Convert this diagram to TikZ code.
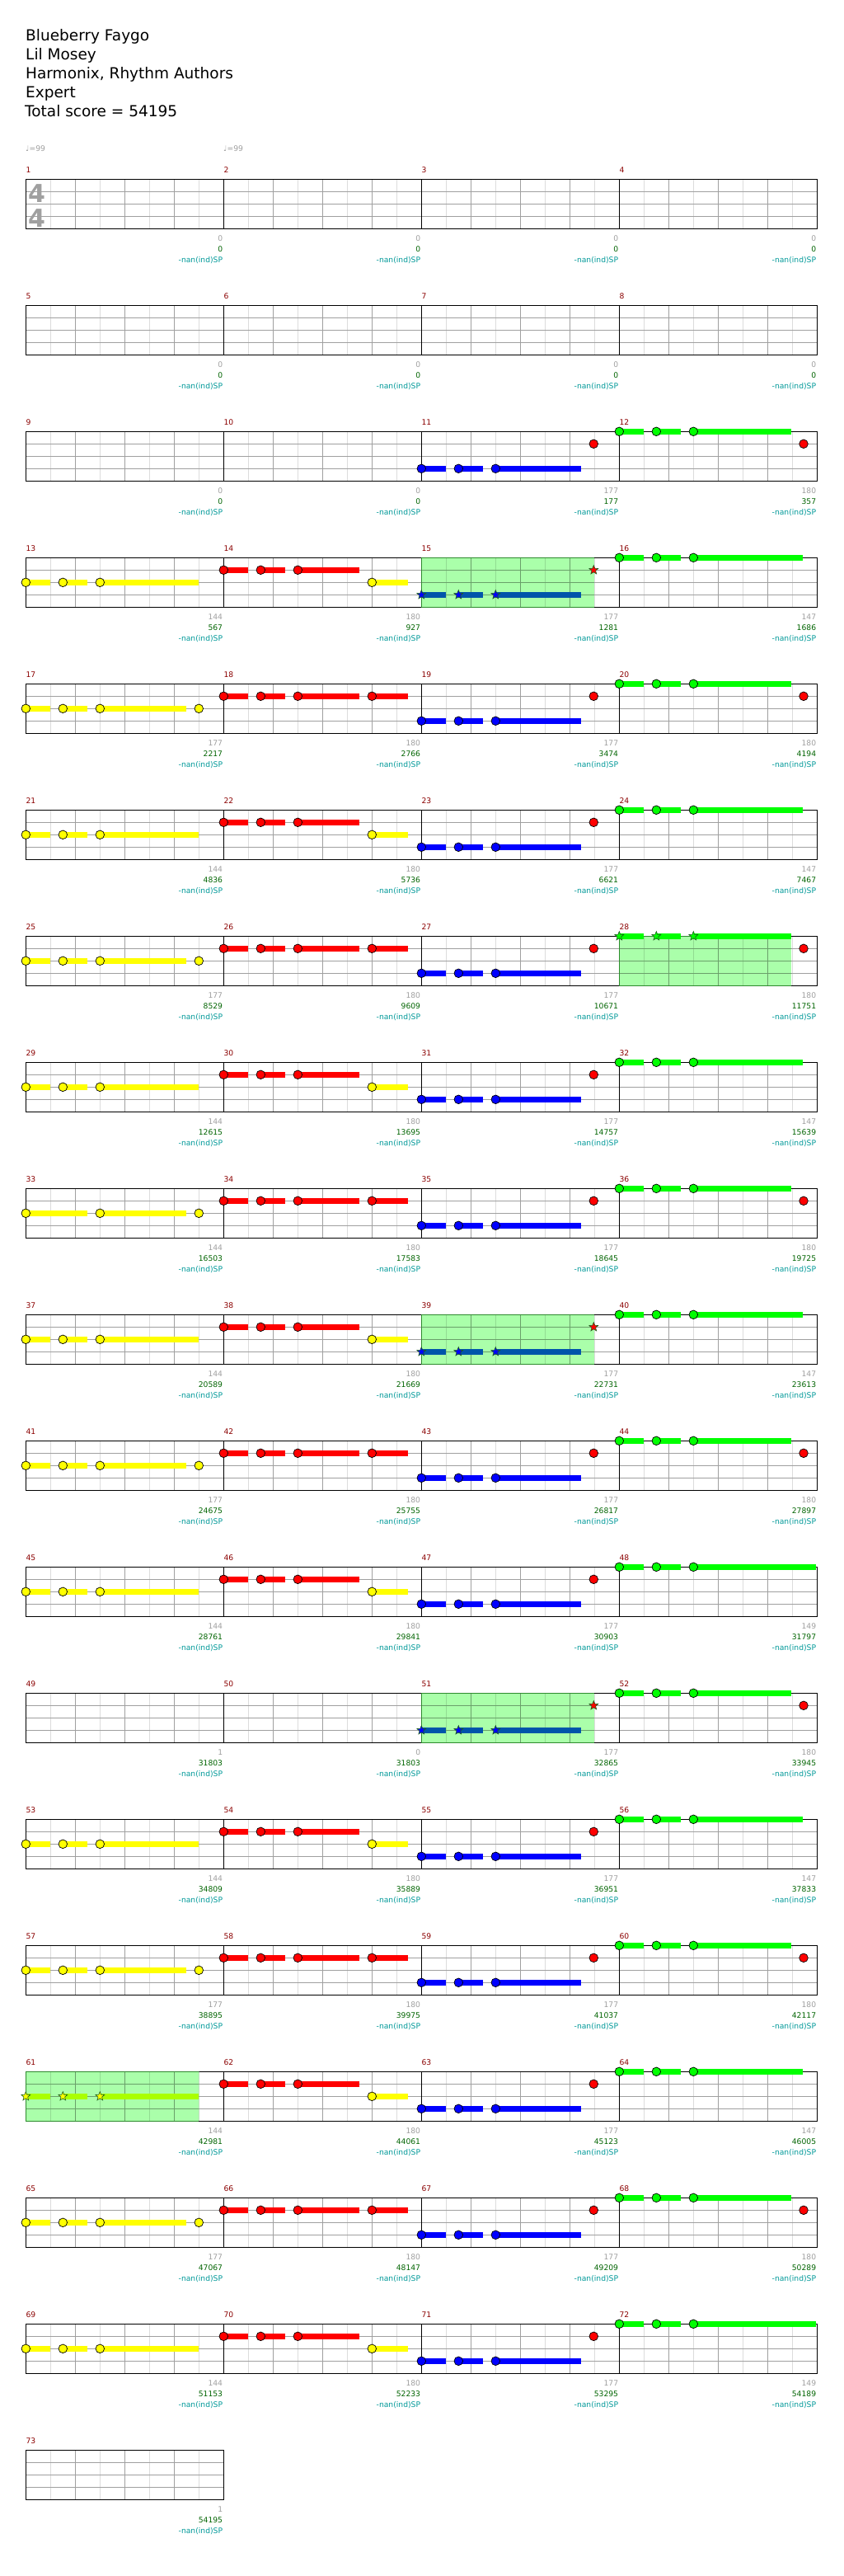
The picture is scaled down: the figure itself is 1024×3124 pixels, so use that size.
\documentclass[tikz,border=0pt]{standalone}
\usepackage{fontspec}
\setmainfont{DejaVu Sans}
\usetikzlibrary{shapes.geometric}
\definecolor{gridlight}{HTML}{DCDCDC}
\definecolor{gridgray}{HTML}{A0A0A0}
\definecolor{splight}{HTML}{92DC92}
\definecolor{spgray}{HTML}{6AA06A}
\definecolor{spfill}{HTML}{AAFFAA}
\definecolor{spedge}{HTML}{2E8B2E}
\definecolor{nyel}{HTML}{FFFF00}
\definecolor{nred}{HTML}{FF0000}
\definecolor{nblu}{HTML}{0000FF}
\definecolor{ngrn}{HTML}{00FF00}
\definecolor{spblue}{HTML}{0055AA}
\definecolor{spyel}{HTML}{AAFF00}
\definecolor{mnum}{HTML}{8B0000}
\definecolor{lblgray}{HTML}{A0A0A0}
\definecolor{lblgreen}{HTML}{006400}
\definecolor{lblcyan}{HTML}{009999}
\definecolor{starline}{HTML}{1E5E1E}
\newcommand\smallfnt{\fontsize{9.2}{10}\selectfont}
\tikzset{
  mnumstyle/.style={anchor=base west,inner sep=0pt,text=mnum,font=\smallfnt},
  lblg/.style={anchor=base east,inner sep=0pt,text=lblgray,font=\smallfnt},
  lblgr/.style={anchor=base east,inner sep=0pt,text=lblgreen,font=\smallfnt},
  lblc/.style={anchor=base east,inner sep=0pt,text=lblcyan,font=\smallfnt},
  notecirc/.style={draw=black,line width=0.7pt},
  spstar/.style={star,star points=5,star point ratio=2.3,minimum size=11.5pt,inner sep=0pt,draw=starline,line width=0.6pt},
  hdr/.style={anchor=base west,inner sep=0pt,font=\fontsize{18.5}{22}\selectfont},
  tempo/.style={anchor=base west,inner sep=0pt,text=lblgray,font=\smallfnt},
  tsig/.style={anchor=base,inner sep=0pt,text=gridgray,font=\fontsize{30}{30}\selectfont\bfseries},
}
% grid of one measure: x0, top, light colour, gray colour
\newcommand\mgrid[4]{%
  \foreach \dx in {30,90,150,210}{\draw[#3,line width=1pt] ({#1+\dx},#2) -- ({#1+\dx},{#2+60});}
  \foreach \dx in {60,120,180}{\draw[#4,line width=1pt] ({#1+\dx},#2) -- ({#1+\dx},{#2+60});}
  \foreach \dy in {15,30,45}{\draw[#4,line width=1pt] (#1,{#2+\dy}) -- ({#1+240},{#2+\dy});}
}
% star power region: x0, top, width
\newcommand\spreg[3]{%
  \begin{scope}
    \clip (#1,#2) rectangle ({#1+#3},{#2+60});
    \fill[spfill] (#1,#2) rectangle ({#1+#3},{#2+60});
    \mgrid{#1}{#2}{splight}{spgray}
  \end{scope}
  \draw[spedge,line width=1.2pt] ({#1+#3},#2) -- (#1,#2) -- (#1,{#2+60}) -- ({#1+#3},{#2+60});
}
% sustain: x0, top, lane, start, end, colour
\newcommand\nsus[6]{\fill[#6] ({#1+#4},{#2+15*#3-3.3}) rectangle ({#1+#5},{#2+15*#3+3.3});}
% note: x0, top, lane, pos, colour
\newcommand\ncir[5]{\filldraw[fill=#5,notecirc] ({#1+#4},{#2+15*#3}) circle[radius=5.3pt];}
% star note: x0, top, lane, pos, colour, name
\newcommand\nstr[6]{\node[spstar,fill=#5] (#6) at ({#1+#4},{#2+15*#3}) {};}
% patterns: x0, top, measure
\newcommand\patYelA[3]{\nsus{#1}{#2}{2}{0}{29.5}{nyel}\nsus{#1}{#2}{2}{45}{74.5}{nyel}\nsus{#1}{#2}{2}{90}{194.5}{nyel}%
  \ncir{#1}{#2}{2}{0}{nyel}\ncir{#1}{#2}{2}{45}{nyel}\ncir{#1}{#2}{2}{90}{nyel}\ncir{#1}{#2}{2}{210}{nyel}}
\newcommand\patYelB[3]{\nsus{#1}{#2}{2}{0}{29.5}{nyel}\nsus{#1}{#2}{2}{45}{74.5}{nyel}\nsus{#1}{#2}{2}{90}{209.5}{nyel}%
  \ncir{#1}{#2}{2}{0}{nyel}\ncir{#1}{#2}{2}{45}{nyel}\ncir{#1}{#2}{2}{90}{nyel}}
\newcommand\patYelC[3]{\nsus{#1}{#2}{2}{0}{74.5}{nyel}\nsus{#1}{#2}{2}{90}{194.5}{nyel}%
  \ncir{#1}{#2}{2}{0}{nyel}\ncir{#1}{#2}{2}{90}{nyel}\ncir{#1}{#2}{2}{210}{nyel}}
\newcommand\patYelSP[3]{\spreg{#1}{#2}{210}%
  \nsus{#1}{#2}{2}{0}{29.5}{spyel}\nsus{#1}{#2}{2}{45}{74.5}{spyel}\nsus{#1}{#2}{2}{90}{209.5}{spyel}%
  \nstr{#1}{#2}{2}{0}{nyel}{st#3a}\nstr{#1}{#2}{2}{45}{nyel}{st#3b}\nstr{#1}{#2}{2}{90}{nyel}{st#3c}}
\newcommand\patRedA[3]{\nsus{#1}{#2}{1}{0}{29.5}{nred}\nsus{#1}{#2}{1}{45}{74.5}{nred}\nsus{#1}{#2}{1}{90}{164.5}{nred}\nsus{#1}{#2}{1}{180}{224}{nred}%
  \ncir{#1}{#2}{1}{0}{nred}\ncir{#1}{#2}{1}{45}{nred}\ncir{#1}{#2}{1}{90}{nred}\ncir{#1}{#2}{1}{180}{nred}}
\newcommand\patRedB[3]{\nsus{#1}{#2}{1}{0}{29.5}{nred}\nsus{#1}{#2}{1}{45}{74.5}{nred}\nsus{#1}{#2}{1}{90}{164.5}{nred}\nsus{#1}{#2}{2}{180}{224}{nyel}%
  \ncir{#1}{#2}{1}{0}{nred}\ncir{#1}{#2}{1}{45}{nred}\ncir{#1}{#2}{1}{90}{nred}\ncir{#1}{#2}{2}{180}{nyel}}
\newcommand\patBlu[3]{\nsus{#1}{#2}{3}{0}{29.5}{nblu}\nsus{#1}{#2}{3}{45}{74.5}{nblu}\nsus{#1}{#2}{3}{90}{194}{nblu}%
  \ncir{#1}{#2}{3}{0}{nblu}\ncir{#1}{#2}{3}{45}{nblu}\ncir{#1}{#2}{3}{90}{nblu}\ncir{#1}{#2}{1}{209}{nred}}
\newcommand\patBluSP[3]{\spreg{#1}{#2}{209.5}%
  \nsus{#1}{#2}{3}{0}{29.5}{spblue}\nsus{#1}{#2}{3}{45}{74.5}{spblue}\nsus{#1}{#2}{3}{90}{194}{spblue}%
  \nstr{#1}{#2}{3}{0}{nblu}{st#3a}\nstr{#1}{#2}{3}{45}{nblu}{st#3b}\nstr{#1}{#2}{3}{90}{nblu}{st#3c}\nstr{#1}{#2}{1}{209}{nred}{st#3d}}
\newcommand\patGrnA[3]{\nsus{#1}{#2}{0}{0}{29.5}{ngrn}\nsus{#1}{#2}{0}{45}{74.5}{ngrn}\nsus{#1}{#2}{0}{90}{208.5}{ngrn}%
  \ncir{#1}{#2}{0}{0}{ngrn}\ncir{#1}{#2}{0}{45}{ngrn}\ncir{#1}{#2}{0}{90}{ngrn}\ncir{#1}{#2}{1}{223.7}{nred}}
\newcommand\patGrnB[3]{\nsus{#1}{#2}{0}{0}{29.5}{ngrn}\nsus{#1}{#2}{0}{45}{74.5}{ngrn}\nsus{#1}{#2}{0}{90}{223}{ngrn}%
  \ncir{#1}{#2}{0}{0}{ngrn}\ncir{#1}{#2}{0}{45}{ngrn}\ncir{#1}{#2}{0}{90}{ngrn}}
\newcommand\patGrnC[3]{\nsus{#1}{#2}{0}{0}{29.5}{ngrn}\nsus{#1}{#2}{0}{45}{74.5}{ngrn}\nsus{#1}{#2}{0}{90}{239}{ngrn}%
  \ncir{#1}{#2}{0}{0}{ngrn}\ncir{#1}{#2}{0}{45}{ngrn}\ncir{#1}{#2}{0}{90}{ngrn}}
\newcommand\patGrnSP[3]{\spreg{#1}{#2}{209}%
  \nsus{#1}{#2}{0}{0}{29.5}{ngrn}\nsus{#1}{#2}{0}{45}{74.5}{ngrn}\nsus{#1}{#2}{0}{90}{208.5}{ngrn}%
  \nstr{#1}{#2}{0}{0}{ngrn}{st#3a}\nstr{#1}{#2}{0}{45}{ngrn}{st#3b}\nstr{#1}{#2}{0}{90}{ngrn}{st#3c}\ncir{#1}{#2}{1}{223.7}{nred}}

\begin{document}
\begin{tikzpicture}[x=1pt,y=-1pt]
\useasboundingbox (0,0) rectangle (1024,3124);
\fill[white] (0,0) rectangle (1024,3124);
% header
\node[hdr] (title) at (31,49) {Blueberry Faygo};
\node[hdr] (artist) at (31,72) {Lil Mosey};
\node[hdr] (charter) at (31,95) {Harmonix, Rhythm Authors};
\node[hdr] (diff) at (31,118) {Expert};
\node[hdr] (total) at (30,141) {Total score = 54195};
\node[tempo] (bpm1) at (31,183.3) {♩=99};
\node[tempo] (bpm2) at (271,183.3) {♩=99};
% grids
\foreach \m in {1,...,73}{%
  \pgfmathtruncatemacro\kk{(\m-1)/4}
  \pgfmathtruncatemacro\jj{\m-1-4*\kk}
  \pgfmathsetmacro\xs{31.3+240*\jj}
  \pgfmathsetmacro\rT{217.3+153*\kk}
  \mgrid{\xs}{\rT}{gridlight}{gridgray}
}
% staff borders
\foreach \k in {0,...,17}{%
  \pgfmathsetmacro\rT{217.3+153*\k}
  \foreach \xx in {271.3,511.3,751.3}{\draw[black,line width=1pt] (\xx,\rT) -- (\xx,{\rT+60});}
  \draw[black,line width=1.2pt] (31.3,\rT) rectangle (991.3,{\rT+60});
}
\draw[black,line width=1.2pt] (31.3,2971.3) rectangle (271.3,3031.3);
% time signature
\node[tsig] (tsa) at (44.5,245) {4};
\node[tsig] (tsb) at (44.5,275) {4};
% notes
\foreach \m/\pp in {11/Blu,12/GrnA,13/YelB,14/RedB,15/BluSP,16/GrnB,17/YelA,18/RedA,19/Blu,20/GrnA,21/YelB,22/RedB,23/Blu,24/GrnB,25/YelA,26/RedA,27/Blu,28/GrnSP,29/YelB,30/RedB,31/Blu,32/GrnB,33/YelC,34/RedA,35/Blu,36/GrnA,37/YelB,38/RedB,39/BluSP,40/GrnB,41/YelA,42/RedA,43/Blu,44/GrnA,45/YelB,46/RedB,47/Blu,48/GrnC,51/BluSP,52/GrnA,53/YelB,54/RedB,55/Blu,56/GrnB,57/YelA,58/RedA,59/Blu,60/GrnA,61/YelSP,62/RedB,63/Blu,64/GrnB,65/YelA,66/RedA,67/Blu,68/GrnA,69/YelB,70/RedB,71/Blu,72/GrnC}{%
  \pgfmathtruncatemacro\kk{(\m-1)/4}
  \pgfmathtruncatemacro\jj{\m-1-4*\kk}
  \pgfmathsetmacro\xs{31.3+240*\jj}
  \pgfmathsetmacro\rT{217.3+153*\kk}
  \csname pat\pp\endcsname{\xs}{\rT}{\m}
}
% labels
\foreach \m/\g/\s in {1/0/0,2/0/0,3/0/0,4/0/0,5/0/0,6/0/0,7/0/0,8/0/0,9/0/0,10/0/0,11/177/177,12/180/357,13/144/567,14/180/927,15/177/1281,16/147/1686,17/177/2217,18/180/2766,19/177/3474,20/180/4194,21/144/4836,22/180/5736,23/177/6621,24/147/7467,25/177/8529,26/180/9609,27/177/10671,28/180/11751,29/144/12615,30/180/13695,31/177/14757,32/147/15639,33/144/16503,34/180/17583,35/177/18645,36/180/19725,37/144/20589,38/180/21669,39/177/22731,40/147/23613,41/177/24675,42/180/25755,43/177/26817,44/180/27897,45/144/28761,46/180/29841,47/177/30903,48/149/31797,49/1/31803,50/0/31803,51/177/32865,52/180/33945,53/144/34809,54/180/35889,55/177/36951,56/147/37833,57/177/38895,58/180/39975,59/177/41037,60/180/42117,61/144/42981,62/180/44061,63/177/45123,64/147/46005,65/177/47067,66/180/48147,67/177/49209,68/180/50289,69/144/51153,70/180/52233,71/177/53295,72/149/54189,73/1/54195}{%
  \pgfmathtruncatemacro\kk{(\m-1)/4}
  \pgfmathtruncatemacro\jj{\m-1-4*\kk}
  \pgfmathsetmacro\xs{31.3+240*\jj}
  \pgfmathsetmacro\xe{\xs+239}
  \pgfmathsetmacro\rT{217.3+153*\kk}
  \node[mnumstyle] (mn\m) at (\xs,{\rT-8}) {\m};
  \node[lblg] (lg\m) at (\xe,{\rT+75}) {\g};
  \node[lblgr] (ls\m) at (\xe,{\rT+88}) {\s};
  \node[lblc] (lc\m) at (\xe,{\rT+101}) {-nan(ind)SP};
}
\end{tikzpicture}
\end{document}
